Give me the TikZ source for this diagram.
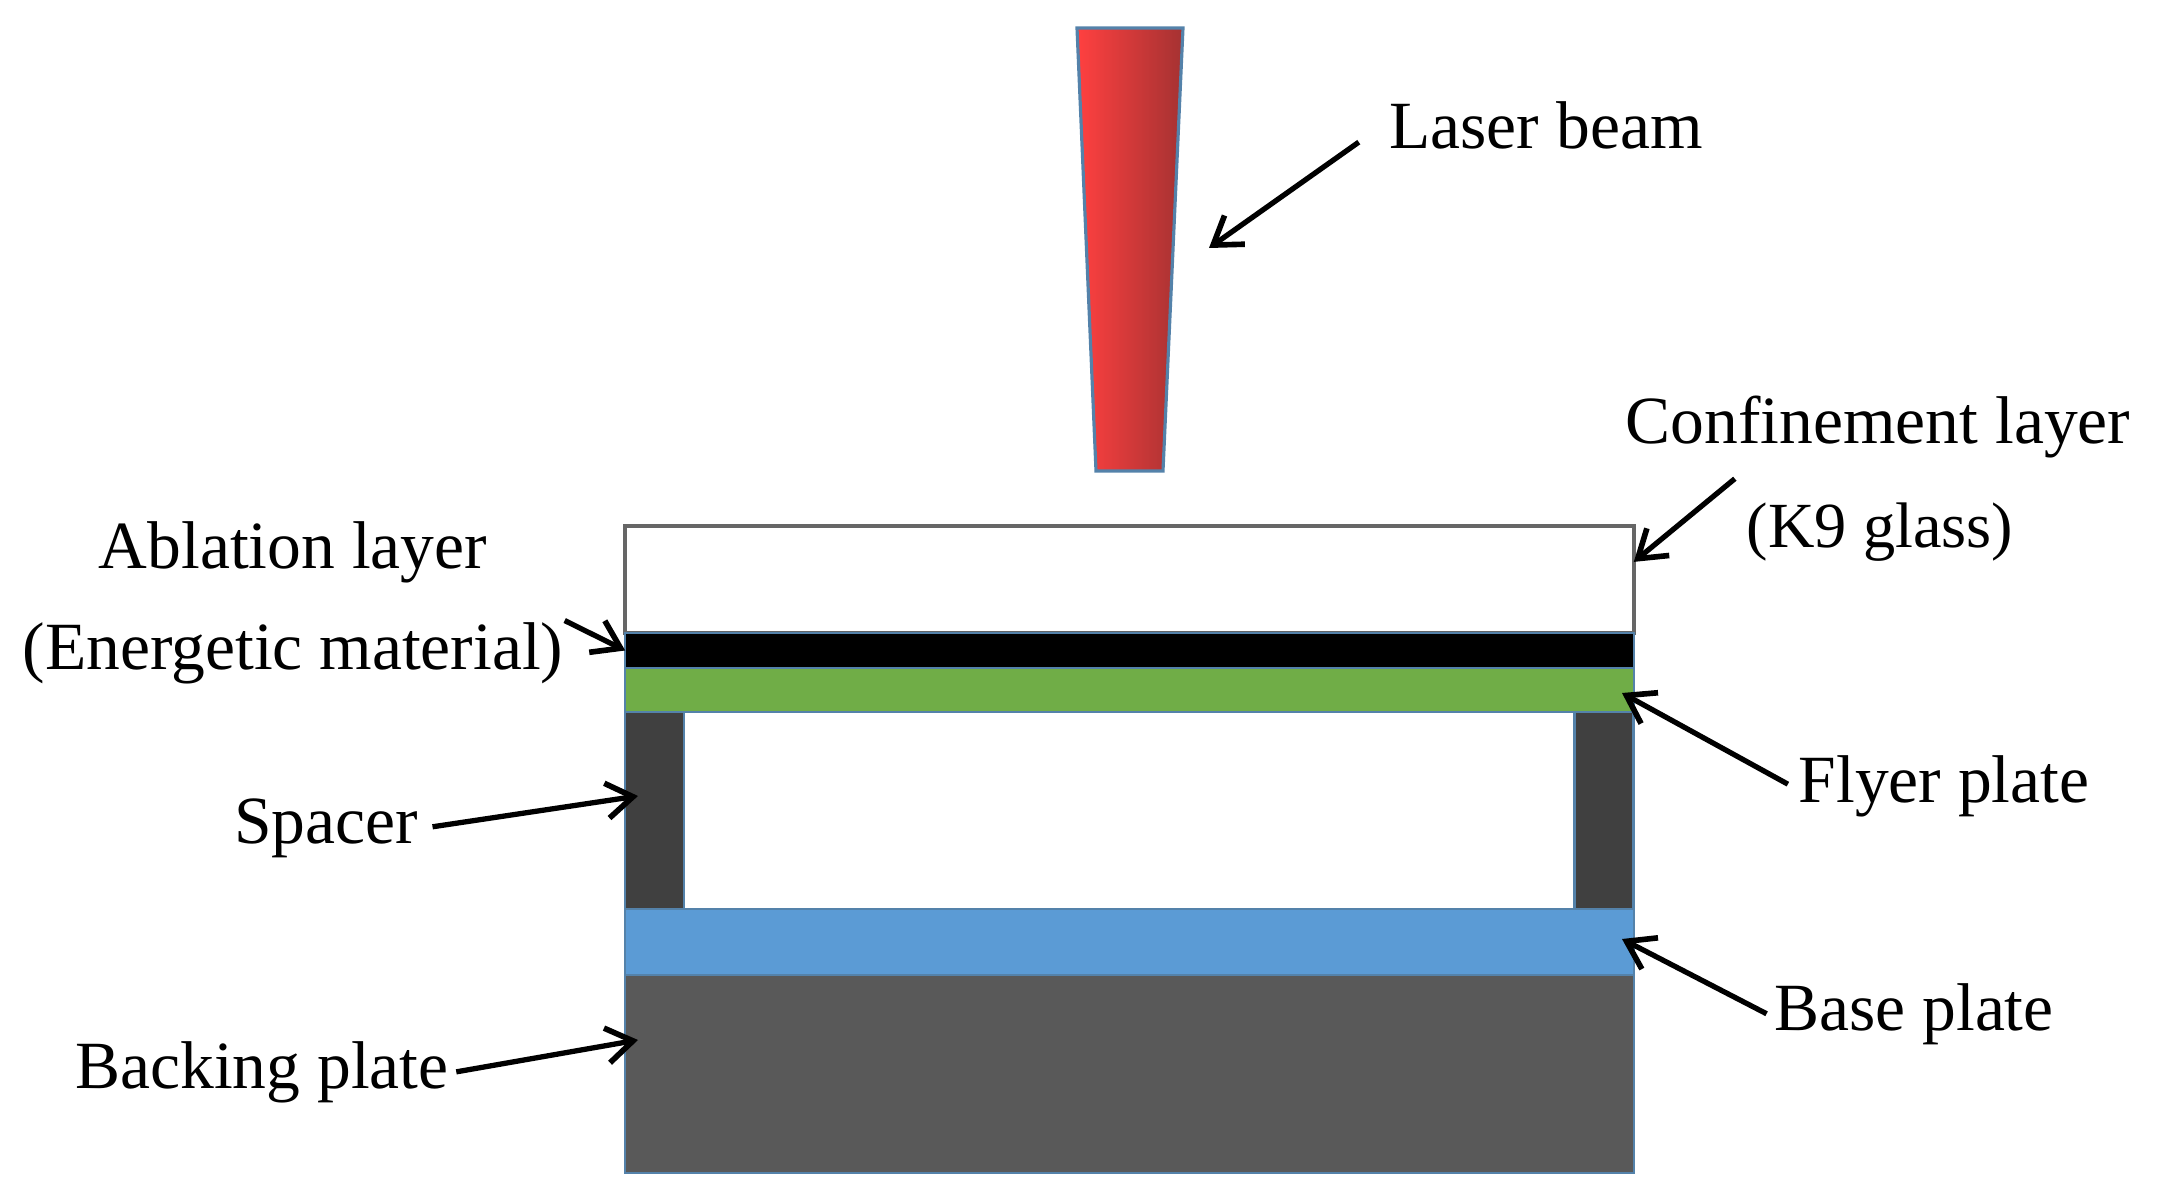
\documentclass[tikz,border=0pt]{standalone}
\usepackage{fontspec}
\setmainfont{Liberation Serif}
\usetikzlibrary{arrows.meta}
\definecolor{beamred}{RGB}{255,64,64}
\definecolor{beamdark}{RGB}{165,50,50}
\definecolor{edgeblue}{RGB}{84,130,170}
\definecolor{flyergreen}{RGB}{112,173,71}
\definecolor{baseblue}{RGB}{91,155,213}
\definecolor{spacergray}{RGB}{64,64,64}
\definecolor{backgray}{RGB}{89,89,89}

\begin{document}
\begin{tikzpicture}[
    x=0.01cm, y=-0.01cm,
    layer/.style={rectangle, draw=edgeblue, fill=#1, inner sep=0pt, outer sep=0pt, line width=0.7pt},
    lbl/.style={anchor=base, inner sep=2pt, font=\fontsize{19.2}{23}\selectfont},
    callout/.style={-{Straight Barb[length=7.5pt,width=10pt,line width=1.6pt]}, line width=1.5pt, color=black}
]
\useasboundingbox (0,0) rectangle (2159,1200);

% Laser beam
\shadedraw[left color=beamred, middle color=beamred!85!beamdark, right color=beamdark, draw=edgeblue, line width=0.9pt]
    (1077,28) -- (1183,28) -- (1163,471) -- (1096,471) -- cycle;

% Layer stack
\node[layer=white, draw=black!60, line width=1pt, minimum width=10.08cm, minimum height=1.07cm] (glass) at (1129.5,579.5) {};
\node[layer=black, minimum width=10.08cm, minimum height=0.35cm] (ablation) at (1129.5,650.5) {};
\node[layer=flyergreen, minimum width=10.08cm, minimum height=0.44cm] (flyer) at (1129.5,690) {};
\node[layer=spacergray, minimum width=0.59cm, minimum height=1.97cm] (spacerL) at (654.5,810.5) {};
\node[layer=spacergray, minimum width=0.59cm, minimum height=1.97cm] (spacerR) at (1604,810.5) {};
\node[layer=baseblue, minimum width=10.08cm, minimum height=0.66cm] (baseplate) at (1129.5,942) {};
\node[layer=backgray, minimum width=10.08cm, minimum height=1.98cm] (backing) at (1129.5,1074) {};

% Labels
\node[lbl] (lblLaser) at (1546,149) {Laser beam};
\node[lbl] (lblConf) at (1878,443) {Confinement layer};
\node[lbl, font=\fontsize{18.3}{22}\selectfont] (lblGlass) at (1880,547) {(K9 glass)};
\node[lbl] (lblAblation) at (293,568) {Ablation layer};
\node[lbl] (lblEnergetic) at (293,669) {(Energetic material)};
\node[lbl] (lblSpacer) at (326,843) {Spacer};
\node[lbl] (lblFlyer) at (1944,802) {Flyer plate};
\node[lbl] (lblBase) at (1914,1030) {Base plate};
\node[lbl] (lblBacking) at (262,1088) {Backing plate};

% Arrow tips
\coordinate (tipLaser) at (1209,248);
\coordinate (tipSpacer) at (638,796);
\coordinate (tipFlyer) at (1622,693);
\coordinate (tipBase) at (1622,939);
\coordinate (tipBacking) at (638,1040);

% Arrows
\draw[callout, shorten <=8pt] (lblLaser.west) -- (tipLaser);
\draw[callout, shorten <=6pt] (lblConf.197) -- (glass.2.8);
\draw[callout, shorten <=-2pt] (lblEnergetic.6) -- (ablation.west);
\draw[callout, shorten <=2pt] (lblSpacer.east) -- (tipSpacer);
\draw[callout, shorten <=1pt] (lblFlyer.west) -- (tipFlyer);
\draw[callout] (lblBase.west) -- (tipBase);
\draw[callout] (lblBacking.east) -- (tipBacking);
\end{tikzpicture}
\end{document}
